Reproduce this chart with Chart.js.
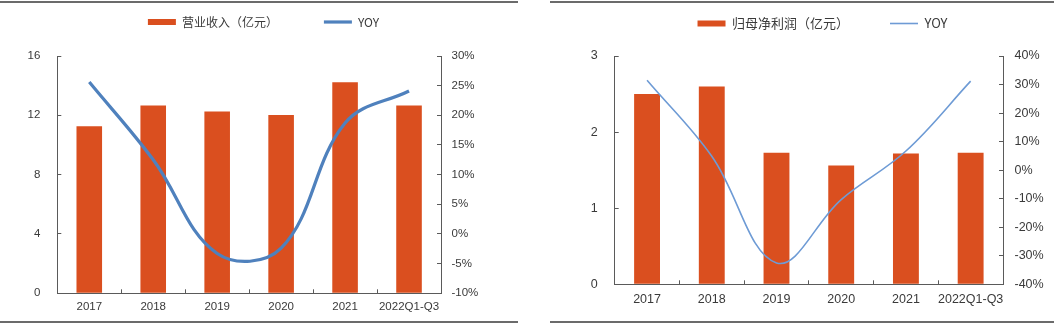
<!DOCTYPE html>
<html>
<head>
<meta charset="utf-8">
<script src="https://cdn.jsdelivr.net/npm/chart.js@4"></script>
<style>
  html, body { margin: 0; padding: 0; background: #fff; }
  body { width: 1054px; height: 327px; position: relative; overflow: hidden; }
  .box { position: absolute; top: 0; width: 527px; height: 327px; }
  .rule { position: absolute; height: 2px; background: #6b6b6b; }
</style>
</head>
<body>
<div class="rule" style="left:0;width:518px;top:1px"></div>
<div class="rule" style="left:550px;width:504px;top:1px"></div>
<div class="rule" style="left:0;width:518px;top:321px"></div>
<div class="rule" style="left:550px;width:504px;top:321px"></div>
<div class="box" style="left:0"><canvas id="c1" width="527" height="327"></canvas></div>
<div class="box" style="left:527px"><canvas id="c2" width="527" height="327"></canvas></div>
<script>
const categories = ['2017', '2018', '2019', '2020', '2021', '2022Q1-Q3'];

const revenueLabel = '营业收入（亿元）';
const revenue = [11.26, 12.66, 12.25, 12.03, 14.23, 12.66];
const revenueYoyLabel = 'YOY';
const revenueYoy = [25.6, 12.5, -3.3, -2.4, 18.7, 24.1];
const revenueTicks = [0, 4, 8, 12, 16];
const revenueYoyTicks = [-10, -5, 0, 5, 10, 15, 20, 25, 30];

const profitLabel = '归母净利润（亿元）';
const profit = [2.50, 2.60, 1.73, 1.56, 1.72, 1.73];
const profitYoyLabel = 'YOY';
const profitYoy = [31.5, 4.9, -32.5, -10.3, 6.7, 31.2];
const profitTicks = [0, 1, 2, 3];
const profitYoyTicks = [-40, -30, -20, -10, 0, 10, 20, 30, 40];

const BAR = '#DA4F1F';
const AXIS = '#5a5a5a';
const TEXT = '#3a3a3a';

function makeChart(id, cfg) {
  const legendLabels = (chart) => chart.data.datasets.map((ds, i) => ({
    text: ds.label,
    fillStyle: ds.backgroundColor,
    strokeStyle: ds.borderColor,
    lineWidth: ds.type === 'line' ? ds.borderWidth : 0,
    pointStyle: ds.type === 'line' ? 'line' : 'rect',
    fontColor: TEXT,
    hidden: false,
    datasetIndex: i
  }));
  // adds empty space between the legend row and the plot area
  const legendSpacer = {
    id: 'legendSpacer',
    afterInit(chart) {
      const lg = chart.legend;
      if (!lg) return;
      const orig = lg.fit;
      lg.fit = function () { orig.call(this); this.height += cfg.legendExtra; };
    }
  };
  const fixedWidth = (w) => (scale) => { scale.width = w; };
  const fixedHeight = (h) => (scale) => { scale.height = h; };
  const tickFont = { family: '"Liberation Sans", Arial, sans-serif', size: cfg.tickSize };
  return new Chart(document.getElementById(id), {
    data: {
      labels: categories,
      datasets: [
        {
          type: 'bar', label: cfg.barLabel, data: cfg.bars,
          backgroundColor: BAR, borderColor: BAR, borderWidth: 0,
          yAxisID: 'y', barPercentage: 0.4, categoryPercentage: 1, order: 2
        },
        {
          type: 'line', label: cfg.lineLabel, data: cfg.line,
          borderColor: cfg.lineColor, backgroundColor: cfg.lineColor,
          borderWidth: cfg.lineWidth, pointRadius: 0, pointHoverRadius: 0,
          tension: cfg.tension, yAxisID: 'y1', order: 1
        }
      ]
    },
    plugins: [legendSpacer],
    options: {
      responsive: false,
      animation: false,
      events: [],
      layout: { padding: { top: cfg.padTop, left: cfg.padLeft, right: 0, bottom: 0 } },
      plugins: {
        tooltip: { enabled: false },
        legend: {
          position: 'top',
          labels: {
            usePointStyle: true,
            pointStyleWidth: 28,
            boxHeight: 6,
            padding: cfg.legendGap,
            color: TEXT,
            font: { family: '"Noto Sans CJK SC", sans-serif', size: cfg.legendSize },
            generateLabels: legendLabels
          }
        }
      },
      scales: {
        x: {
          type: 'category',
          offset: true,
          afterFit: fixedHeight(cfg.xH),
          border: { color: AXIS, width: 1 },
          grid: { offset: true, drawOnChartArea: false, tickLength: -4, color: AXIS },
          ticks: { color: TEXT, font: tickFont, padding: cfg.xPad, maxRotation: 0, autoSkip: false }
        },
        y: {
          position: 'left',
          min: cfg.yTicks[0], max: cfg.yTicks[cfg.yTicks.length - 1],
          afterFit: fixedWidth(cfg.yW),
          afterBuildTicks: (s) => { s.ticks = cfg.yTicks.map(v => ({ value: v })); },
          border: { color: AXIS, width: 1 },
          grid: { drawOnChartArea: false, tickLength: -4, color: AXIS },
          ticks: { color: TEXT, font: tickFont, padding: cfg.yPad }
        },
        y1: {
          position: 'right',
          min: cfg.y1Ticks[0], max: cfg.y1Ticks[cfg.y1Ticks.length - 1],
          afterFit: fixedWidth(cfg.y1W),
          afterBuildTicks: (s) => { s.ticks = cfg.y1Ticks.map(v => ({ value: v })); },
          border: { color: AXIS, width: 1 },
          grid: { drawOnChartArea: false, tickLength: -4, color: AXIS },
          ticks: { color: TEXT, font: tickFont, padding: cfg.y1Pad, callback: (v) => v + '%' }
        }
      }
    }
  });
}

makeChart('c1', {
  barLabel: revenueLabel, bars: revenue,
  lineLabel: revenueYoyLabel, line: revenueYoy,
  yTicks: revenueTicks, y1Ticks: revenueYoyTicks,
  lineColor: '#4F81BD', lineWidth: 3.2, tension: 0.38,
  padTop: -30, padLeft: 0, legendExtra: 18, legendGap: 46, legendSize: 12,
  tickSize: 11.5, xH: 33.7, xPad: 11, yW: 57.3, yPad: 21, y1W: 86, y1Pad: 14.5
});

makeChart('c2', {
  barLabel: profitLabel, bars: profit,
  lineLabel: profitYoyLabel, line: profitYoy,
  yTicks: profitTicks, y1Ticks: profitYoyTicks,
  lineColor: '#6E9BD5', lineWidth: 1.6, tension: 0.38,
  padTop: -24, padLeft: 64, legendExtra: 16, legendGap: 41, legendSize: 13,
  tickSize: 12.5, xH: 42.7, xPad: 12, yW: 23.7, yPad: 21, y1W: 51, y1Pad: 15.5
});
</script>
</body>
</html>
